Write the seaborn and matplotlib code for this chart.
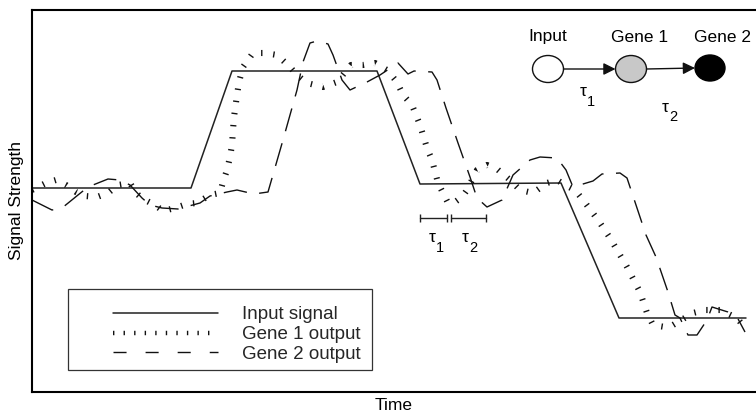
import matplotlib
matplotlib.use("Agg")
import matplotlib.pyplot as plt
import seaborn as sns
from matplotlib.patches import Ellipse, Rectangle
from matplotlib.lines import Line2D

# ---- data (arbitrary units) ----
input_t = [0, 159, 200, 345, 388, 529, 587, 714]
input_s = [204, 204, 321, 321, 208, 209, 74, 74]

gene1_t = [0, 14, 24, 34, 44, 53, 65, 76, 86, 98,
           104, 111, 123, 131, 143, 155, 165, 178, 188, 191,
           195, 198, 200, 201, 202, 205, 207, 211, 221, 233,
           245, 258, 265, 275, 291, 305, 319, 331, 343, 355,
           365, 371, 380, 388, 395, 400, 406, 411, 416, 423,
           430, 435, 445, 455, 465, 478, 488, 501, 515, 525,
           533, 543, 551, 566, 578, 595, 608, 615, 621, 633,
           641, 661, 673, 688, 705, 713]
gene1_s = [202, 209, 212, 207, 200, 196, 195, 199, 207, 209,
           199, 193, 187, 181, 184, 188, 189, 197, 199, 210,
           222, 235, 247, 262, 275, 297, 310, 325, 339, 339,
           337, 325, 317, 309, 305, 310, 327, 327, 329, 322,
           310, 297, 287, 267, 244, 232, 209, 199, 189, 190,
           195, 202, 222, 227, 223, 212, 202, 199, 209, 212,
           207, 202, 192, 172, 154, 125, 100, 79, 67, 65,
           67, 79, 82, 82, 74, 64]

gene2_t = [0, 20, 30, 46, 56, 76, 88, 98, 110, 118,
           130, 146, 168, 178, 195, 205, 222, 236, 251, 265,
           271, 278, 285, 296, 301, 310, 318, 335, 348, 366,
           376, 382, 400, 405, 414, 426, 438, 445, 455, 470,
           481, 498, 508, 525, 534, 541, 561, 570, 588, 595,
           605, 614, 624, 636, 643, 648, 656, 665, 675, 680,
           696, 705, 713]
gene2_s = [192, 182, 184, 197, 205, 213, 212, 207, 194, 187,
           184, 183, 189, 196, 200, 202, 198, 200, 252, 302,
           330, 349, 351, 348, 337, 312, 302, 310, 317, 329,
           318, 321, 320, 312, 284, 249, 215, 194, 185, 192,
           217, 232, 235, 234, 222, 205, 211, 218, 219, 214,
           184, 157, 135, 100, 77, 74, 57, 57, 72, 85,
           80, 75, 60]

legend_labels = ["Input signal", "Gene 1 output", "Gene 2 output"]
node_labels = ["Input", "Gene 1", "Gene 2"]

# ---- style ----
sns.set_theme(style="white")
plt.rcParams["font.family"] = ["Liberation Sans", "DejaVu Sans"]
plt.rcParams["lines.scale_dashes"] = False

fig = plt.figure(figsize=(7.56, 4.13), dpi=100)
ax = fig.add_axes([32 / 756, 21 / 413, 724 / 756, 382 / 413])

sns.lineplot(x=input_t, y=input_s, ax=ax, color="#222222", lw=1.1,
             estimator=None, sort=False)
sns.lineplot(x=gene1_t, y=gene1_s, ax=ax, color="#111111", lw=4.4,
             linestyle=(0, (1.0, 7.8)), estimator=None, sort=False)
sns.lineplot(x=gene2_t, y=gene2_s, ax=ax, color="#111111", lw=1.0,
             linestyle=(0, (17, 9)), estimator=None, sort=False)

ax.set_xlim(0, 724)
ax.set_ylim(0, 382)
ax.set_xticks([])
ax.set_yticks([])
for side in ["left", "top", "bottom"]:
    ax.spines[side].set_color("black")
    ax.spines[side].set_linewidth(1.5)
ax.spines["right"].set_visible(False)
ax.set_xlabel("Time", fontsize=12.5, labelpad=4, color="black")
ax.set_ylabel("Signal Strength", fontsize=12.5, labelpad=6, color="black")


def tau(x, y, sub):
    ax.text(x, y, "\u03c4", ha="center", va="center", fontsize=12.5, color="black")
    ax.annotate(sub, xy=(x, y), xytext=(6, -7), textcoords="offset points",
                ha="center", va="center", fontsize=10.5, color="black")


# ---- network diagram ----
ax.add_patch(Ellipse((516, 323), 31, 27, fc="white", ec="#111111", lw=1.0))
ax.add_patch(Ellipse((599, 323), 31, 27, fc="#c8c8c8", ec="#111111", lw=1.0))
ax.add_patch(Ellipse((678, 324), 30, 26, fc="black", ec="black", lw=1.0))
ax.annotate("", xy=(583.5, 323), xytext=(531.5, 323),
            arrowprops=dict(arrowstyle="-|>", color="#111111", lw=1.0,
                            mutation_scale=18, shrinkA=0, shrinkB=0))
ax.annotate("", xy=(663, 324), xytext=(614.5, 323),
            arrowprops=dict(arrowstyle="-|>", color="#111111", lw=1.0,
                            mutation_scale=18, shrinkA=0, shrinkB=0))
for (nx, lab) in zip([516, 608, 690], node_labels):
    ax.text(nx, 355, lab, ha="center", va="center", fontsize=12.5, color="black")
tau(551, 300, "1")
tau(633, 285, "2")

# ---- delay bars ----
ax.plot([388, 415], [174, 174], color="#222222", lw=1.0)
ax.plot([419, 454], [174, 174], color="#222222", lw=1.0)
ax.vlines([388, 415, 419, 454], 170, 178, color="#222222", lw=1.0)
tau(400, 154, "1")
tau(433, 154, "2")

# ---- legend ----
ax.add_patch(Rectangle((36, 22), 304, 81, fill=False, ec="#333333", lw=0.9))
handles = [
    Line2D([], [], color="#222222", lw=1.1),
    Line2D([], [], color="#111111", lw=3.2, linestyle=(0, (1.0, 6.6))),
    Line2D([], [], color="#111111", lw=1.0, linestyle=(0, (9.4, 13.7))),
]
ax.legend(handles, legend_labels, loc="upper left",
          bbox_to_anchor=((113 - 32) / 724, (392 - 306) / 382),
          frameon=False, borderpad=0, borderaxespad=0, handlelength=5.6,
          handletextpad=1.28, labelspacing=0.15, fontsize=13.5)

fig.savefig("out.png", dpi=100)
